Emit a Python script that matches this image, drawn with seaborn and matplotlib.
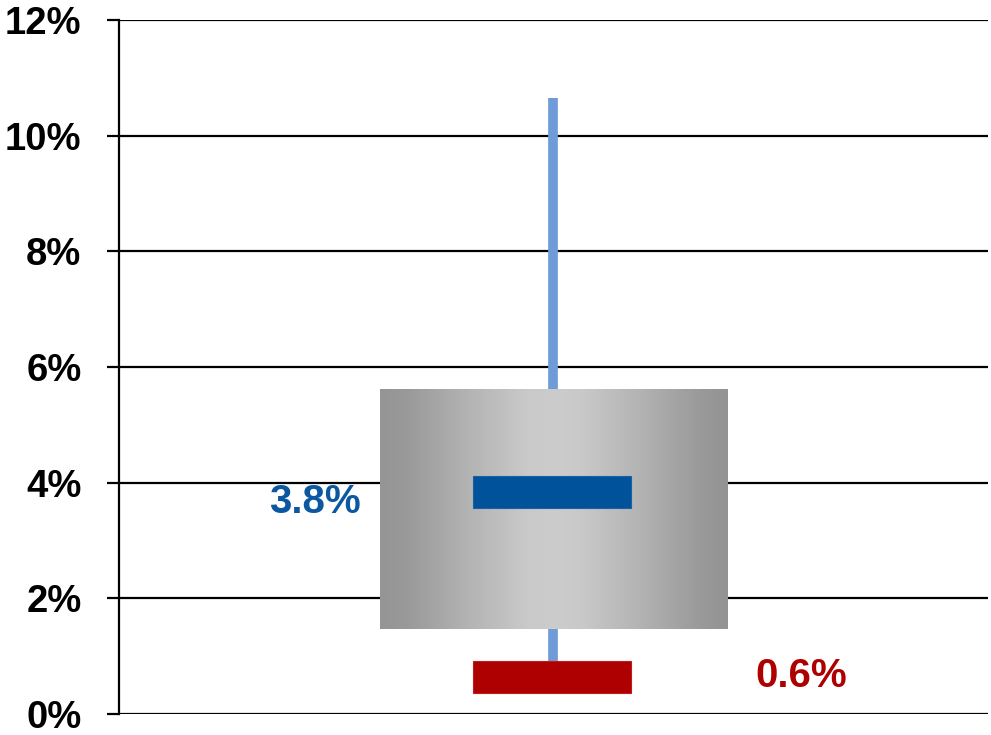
import numpy as np
import matplotlib
matplotlib.use("Agg")
import matplotlib.pyplot as plt
from matplotlib.patches import Rectangle
from matplotlib.colors import LinearSegmentedColormap
import seaborn as sns

# Summary statistics (percent)
box_low = [1.47]
box_high = [5.62]
whisker_top = [10.65]
median_value = [3.8]
low_value = [0.6]
median_label = ["3.8%"]
low_label = ["0.6%"]
y_ticks = [0, 2, 4, 6, 8, 10, 12]
y_tick_labels = ["0%", "2%", "4%", "6%", "8%", "10%", "12%"]

sns.set_theme(style="white")
plt.rcParams["font.family"] = ["Liberation Sans", "DejaVu Sans"]

fig = plt.figure(figsize=(9.91, 7.35), dpi=100)
ax = fig.add_axes([0.120, 0.0286, 0.877, 0.9442])

ax.set_xlim(0, 1)
ax.set_ylim(0, 12)

# horizontal grid
for t in y_ticks:
    ax.axhline(t, color="black", lw=1.6, zorder=1)

cx = 0.5
box_w = 0.40
bar_w = 0.182
bar_h = 0.54
shift = 0.04

# whisker behind the box
ax.vlines(cx, low_value[0], whisker_top[0], color="#6f9bd8", lw=7, zorder=2)

# box with a horizontal metallic gradient
grad_pos = [0.0, 0.08, 0.25, 0.42, 0.5, 0.58, 0.75, 0.92, 1.0]
grad_col = ["#959595", "#9a9a9a", "#b3b3b3", "#c9c9c9", "#cccccc",
            "#c9c9c9", "#b3b3b3", "#9a9a9a", "#939393"]
cmap = LinearSegmentedColormap.from_list("metal", list(zip(grad_pos, grad_col)))
x0 = cx - box_w / 2
x1 = cx + box_w / 2
grad = np.linspace(0, 1, 400).reshape(1, -1)
im = ax.imshow(grad, cmap=cmap, aspect="auto",
               extent=[x0, x1, box_low[0], box_high[0]], zorder=3,
               interpolation="bilinear")
rect = Rectangle((x0, box_low[0]), box_w, box_high[0] - box_low[0],
                 facecolor="none", edgecolor="none", transform=ax.transData)
ax.add_patch(rect)
im.set_clip_path(rect)

# median and low markers
ax.bar([cx - 0.002], [bar_h], bottom=[median_value[0] + shift - bar_h / 2], width=bar_w,
       color="#00529b", edgecolor="#1a62a6", lw=0.8, zorder=4)
ax.bar([cx - 0.002], [bar_h], bottom=[low_value[0] + shift - bar_h / 2], width=bar_w,
       color="#ae0000", edgecolor="#c01a1a", lw=0.8, zorder=4)

# value labels
ax.text(0.2785, median_value[0] - 0.13, median_label[0], ha="right", va="center",
        fontsize=29, fontweight="bold", color="#0b58a0", zorder=5)
ax.text(0.732, low_value[0] + 0.06, low_label[0], ha="left", va="center",
        fontsize=29, fontweight="bold", color="#ae0000", zorder=5)

ax.set_yticks(y_ticks)
ax.set_yticklabels(y_tick_labels, fontsize=27.5, fontweight="bold", color="black")
ax.set_xticks([])
ax.tick_params(axis="y", left=True, length=9, width=1.6, color="black", pad=18)

for side in ["top", "right", "bottom"]:
    ax.spines[side].set_visible(False)
ax.spines["left"].set_color("black")
ax.spines["left"].set_linewidth(1.6)
ax.spines["left"].set_zorder(6)
ax.set_facecolor("white")
fig.patch.set_facecolor("white")

fig.savefig("out.png", dpi=100, facecolor="white")
